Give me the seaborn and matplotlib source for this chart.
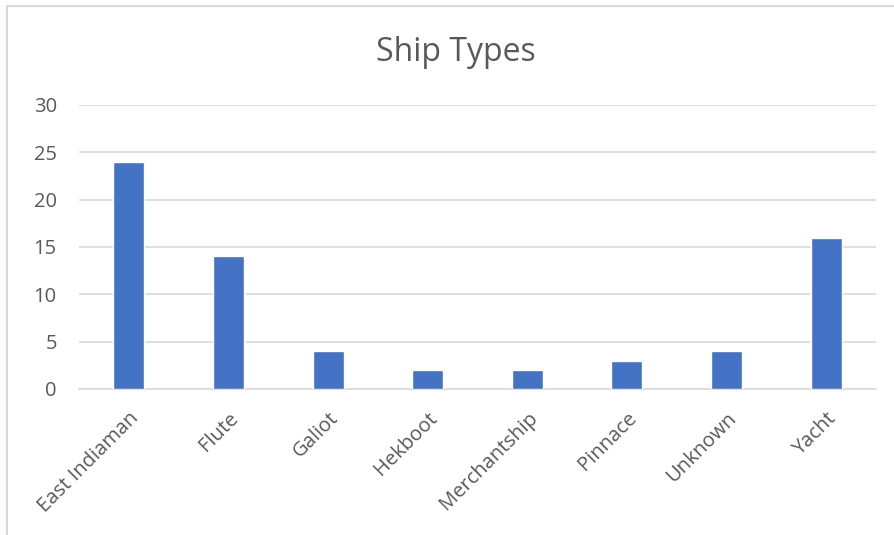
import matplotlib
matplotlib.use("Agg")
import matplotlib.pyplot as plt
import seaborn as sns
import pandas as pd
from matplotlib.lines import Line2D

categories = ["East Indiaman", "Flute", "Galiot", "Hekboot", "Merchantship", "Pinnace", "Unknown", "Yacht"]
counts = [24, 14, 4, 2, 2, 3, 4, 16]
y_ticks = [0, 5, 10, 15, 20, 25, 30]
title = "Ship Types"

sns.set_style("white")
plt.rcParams['font.family'] = ['Open Sans', 'DejaVu Sans']

df = pd.DataFrame({"type": categories, "count": counts})

fig = plt.figure(figsize=(8.95, 5.35), dpi=100)
ax = fig.add_axes([79/895, 1-389/535, (876-79)/895, (389-105)/535])

sns.barplot(data=df, x="type", y="count", color="#4472C4", width=0.31,
            saturation=1, ax=ax, zorder=3)

ax.set_ylim(0, 30)
ax.set_yticks(y_ticks)
ax.set_xlim(-0.5, len(categories)-0.5)
ax.yaxis.grid(True, color="#D9D9D9", linewidth=1.2, zorder=0)
ax.set_axisbelow(True)
for s in ["top", "right", "left"]:
    ax.spines[s].set_visible(False)
ax.spines["bottom"].set_color("#D9D9D9")
ax.spines["bottom"].set_linewidth(1.2)
ax.set_xlabel("")
ax.set_ylabel("")
ax.tick_params(axis="both", length=0, colors="#595959", labelsize=14.5)
ax.tick_params(axis="y", pad=16)
ax.tick_params(axis="x", pad=14)
for lab in ax.get_xticklabels():
    lab.set_rotation(45)
    lab.set_ha("right")
    lab.set_rotation_mode("anchor")

fig.text(456/895, 1-52/535, title, ha="center", va="center", fontsize=23, color="#595959")

# chart border (left and top visible)
fig.add_artist(Line2D([7/895, 7/895], [0, 1-6/535], transform=fig.transFigure, color="#D9D9D9", linewidth=1.5))
fig.add_artist(Line2D([7/895, 1], [1-6/535, 1-6/535], transform=fig.transFigure, color="#D9D9D9", linewidth=1.5))

fig.savefig("out.png", dpi=100)
